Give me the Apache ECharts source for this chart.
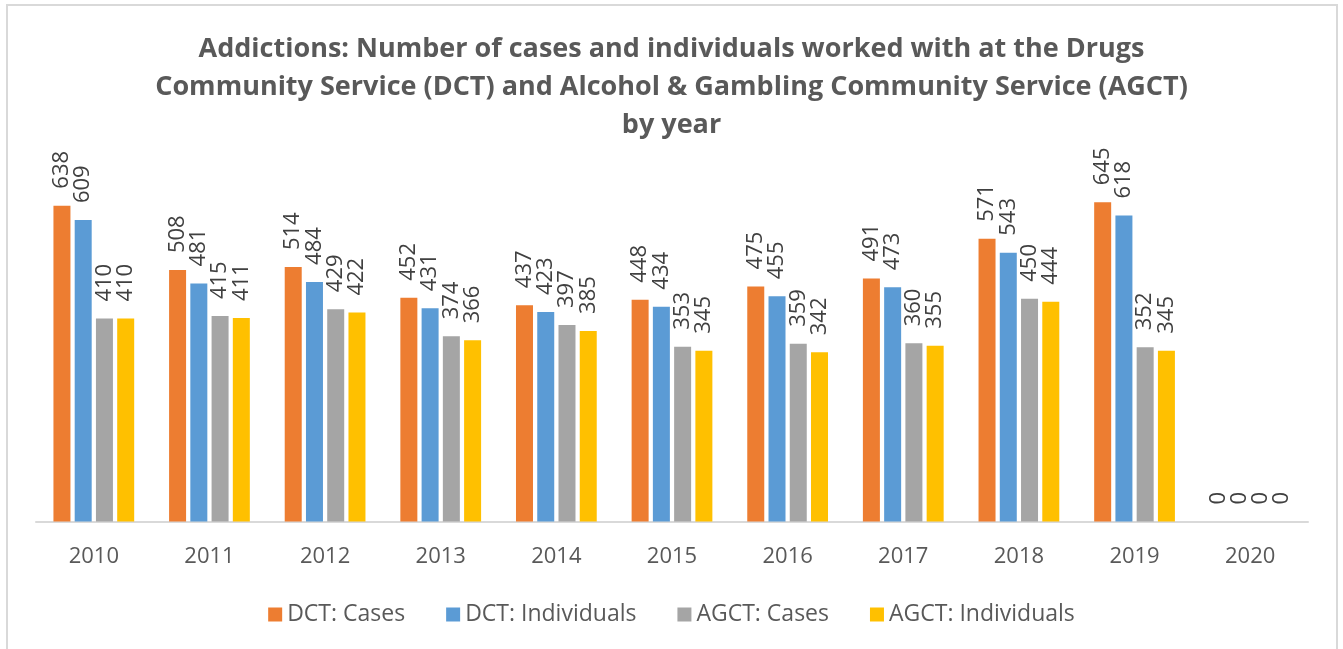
<!DOCTYPE html>
<html>
<head>
<meta charset="utf-8">
<script src="https://cdn.jsdelivr.net/npm/echarts@6/dist/echarts.min.js"></script>
<style>
html, body { margin: 0; padding: 0; background: #fff; }
#main { width: 1343px; height: 649px; }
</style>
</head>
<body>
<div id="main"></div>
<script>
var years = ['2010', '2011', '2012', '2013', '2014', '2015', '2016', '2017', '2018', '2019', '2020'];
var dctCases = [638, 508, 514, 452, 437, 448, 475, 491, 571, 645, 0];
var dctIndividuals = [609, 481, 484, 431, 423, 434, 455, 473, 543, 618, 0];
var agctCases = [410, 415, 429, 374, 397, 353, 359, 360, 450, 352, 0];
var agctIndividuals = [410, 411, 422, 366, 385, 345, 342, 355, 444, 345, 0];

var seriesNames = ['DCT: Cases', 'DCT: Individuals', 'AGCT: Cases', 'AGCT: Individuals'];
var seriesColors = ['#ED7D31', '#5B9BD5', '#A5A5A5', '#FFC000'];
var seriesData = [dctCases, dctIndividuals, agctCases, agctIndividuals];

var font = 'Open Sans';

var myChart = echarts.init(document.getElementById('main'));

// 系列
var series = [];
for (var i = 0; i < seriesData.length; i++) {
	series.push({
		name: seriesNames[i],
		type: 'bar',
		data: seriesData[i],
		barWidth: 17,
		barGap: '25%',
		itemStyle: {color: seriesColors[i]},
		label: {
			show: true,
			position: 'top',
			rotate: 90,
			align: 'left',
			verticalAlign: 'middle',
			distance: 17,
			color: '#404040',
			fontFamily: font,
			fontSize: 22
		}
	});
}

var option = {
	animation: false,
	title: {
		text: 'Addictions: Number of cases and individuals worked with at the Drugs\nCommunity Service (DCT) and Alcohol & Gambling Community Service (AGCT)\nby year',
		left: 'center',
		top: 25,
		textStyle: {fontFamily: font, fontWeight: 'bold', fontSize: 27, color: '#595959', lineHeight: 38}
	},
	graphic: [{
		type: 'rect',
		shape: {x: 7, y: 5, width: 1330, height: 660},
		style: {fill: 'none', stroke: '#d9d9d9', lineWidth: 2},
		silent: true
	}],
	legend: {
		data: seriesNames,
		top: 598,
		left: 'center',
		itemWidth: 14,
		itemHeight: 14,
		itemGap: 41,
		icon: 'rect',
		textStyle: {fontFamily: font, fontSize: 23, color: '#595959'}
	},
	grid: {left: 36, right: 35, top: 175, bottom: 127.5, containLabel: false},
	xAxis: {
		type: 'category',
		data: years,
		axisLine: {lineStyle: {color: '#d9d9d9', width: 2}},
		axisTick: {show: false},
		axisLabel: {fontFamily: font, fontSize: 22, color: '#595959', margin: 24}
	},
	yAxis: {
		type: 'value',
		min: 0,
		max: 700,
		interval: 100,
		show: false,
		splitLine: {show: false}
	},
	series: series
};
myChart.setOption(option);
</script>
</body>
</html>
